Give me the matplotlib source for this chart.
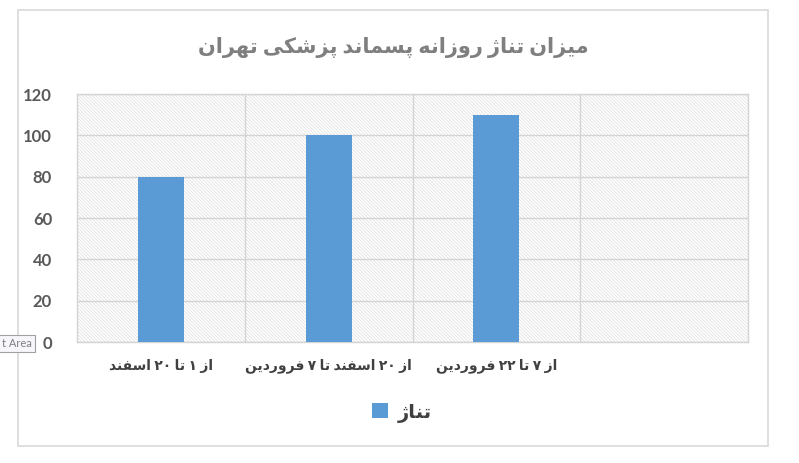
import numpy as np
import matplotlib
matplotlib.use("Agg")
import matplotlib.pyplot as plt
from matplotlib.patches import Rectangle

# data
title_text = 'میزان تناژ روزانه پسماند پزشکی تهران'
series_name = 'تناژ'
categories = ['از ۱ تا ۲۰ اسفند', 'از ۲۰ اسفند تا ۷ فروردین', 'از ۷ تا ۲۲ فروردین', '']
values = [80, 100, 110, np.nan]
yticks = [0, 20, 40, 60, 80, 100, 120]

# minimal Persian shaping: (isolated, final, initial, medial)
FORMS = {
    '\u0627': ('\uFE8D', '\uFE8E', None, None),
    '\u0622': ('\uFE81', '\uFE82', None, None),
    '\u062F': ('\uFEA9', '\uFEAA', None, None),
    '\u0630': ('\uFEAB', '\uFEAC', None, None),
    '\u0631': ('\uFEAD', '\uFEAE', None, None),
    '\u0632': ('\uFEAF', '\uFEB0', None, None),
    '\u0698': ('\uFB8A', '\uFB8B', None, None),
    '\u0648': ('\uFEED', '\uFEEE', None, None),
    '\u0628': ('\uFE8F', '\uFE90', '\uFE91', '\uFE92'),
    '\u067E': ('\uFB56', '\uFB57', '\uFB58', '\uFB59'),
    '\u062A': ('\uFE95', '\uFE96', '\uFE97', '\uFE98'),
    '\u0633': ('\uFEB1', '\uFEB2', '\uFEB3', '\uFEB4'),
    '\u0634': ('\uFEB5', '\uFEB6', '\uFEB7', '\uFEB8'),
    '\u0641': ('\uFED1', '\uFED2', '\uFED3', '\uFED4'),
    '\u0642': ('\uFED5', '\uFED6', '\uFED7', '\uFED8'),
    '\u0644': ('\uFEDD', '\uFEDE', '\uFEDF', '\uFEE0'),
    '\u0645': ('\uFEE1', '\uFEE2', '\uFEE3', '\uFEE4'),
    '\u0646': ('\uFEE5', '\uFEE6', '\uFEE7', '\uFEE8'),
    '\u0647': ('\uFEE9', '\uFEEA', '\uFEEB', '\uFEEC'),
    '\u06A9': ('\uFB8E', '\uFB8F', '\uFB90', '\uFB91'),
    '\u06CC': ('\uFBFC', '\uFBFD', '\uFBFE', '\uFBFF'),
}


def shape_word(w):
    out = []
    for i, c in enumerate(w):
        if c not in FORMS:
            out.append(c)
            continue
        prev = w[i - 1] if i > 0 else None
        nxt = w[i + 1] if i + 1 < len(w) else None
        join_prev = prev in FORMS and FORMS[prev][2] is not None
        join_next = nxt in FORMS and FORMS[c][2] is not None
        iso, fin, ini, med = FORMS[c]
        if join_prev and join_next:
            out.append(med)
        elif join_prev:
            out.append(fin)
        elif join_next:
            out.append(ini)
        else:
            out.append(iso)
    return ''.join(out)


def rtl(text):
    vis = []
    for w in reversed(text.split(' ')):
        if any(c in FORMS for c in w):
            vis.append(shape_word(w)[::-1])
        else:
            vis.append(w)
    return ' '.join(vis)


plt.rcParams['font.family'] = ['Lato', 'DejaVu Sans']
plt.rcParams['hatch.linewidth'] = 0.45
plt.rcParams['hatch.color'] = '#dadada'

fig = plt.figure(figsize=(7.99, 4.63), dpi=100)
ax = fig.add_axes([0.0964, 0.2613, 0.8398, 0.5356])

# chart border
fig.patches.append(Rectangle((0.0225, 0.0367), 0.9387, 0.9417, transform=fig.transFigure,
                             fill=False, edgecolor='#d9d9d9', linewidth=1.2))

# hatched plot area
ax.patch.set_visible(False)
ax.add_patch(Rectangle((0, 0), 1, 1, transform=ax.transAxes, facecolor='white',
                       edgecolor='#dadada', hatch='\\' * 10, linewidth=0, zorder=0))

x = np.arange(len(categories))
ax.bar(x, values, width=0.275, color='#5b9bd5', zorder=3)

ax.set_xlim(-0.5, len(categories) - 0.5)
ax.set_ylim(0, 120)
ax.set_yticks(yticks)
ax.set_xticks(x[:-1] + 0.5, minor=True)
ax.yaxis.grid(True, color='#d4d4d4', linewidth=1.0, zorder=1)
ax.xaxis.grid(True, which='minor', color='#d4d4d4', linewidth=1.0, zorder=1)
ax.set_axisbelow(True)
for s in ax.spines.values():
    s.set_color('#d4d4d4')
    s.set_linewidth(1.0)

ax.set_xticks(x)
ax.set_xticklabels([rtl(c) for c in categories], fontsize=10, fontweight='bold', color='#404040')
ax.tick_params(axis='both', which='both', length=0)
ax.tick_params(axis='x', pad=12)
ax.tick_params(axis='y', pad=18)
for lab in ax.get_yticklabels():
    lab.set_fontsize(12)
    lab.set_fontweight('bold')
    lab.set_color('#595959')

fig.text(0.492, 0.898, rtl(title_text), ha='center', va='center', fontsize=15,
         fontweight='bold', color='#7f7f7f')

# legend
handle = Rectangle((0, 0), 1, 1, facecolor='#5b9bd5')
fig.legend([handle], [rtl(series_name)], loc='center', bbox_to_anchor=(0.503, 0.108),
           frameon=False, handlelength=0.8, handleheight=0.8, handletextpad=0.5,
           prop={'size': 14, 'weight': 'bold'}, labelcolor='#404040')

# tooltip artefact at left edge
fig.text(0.002, 0.258, 't Area', ha='left', va='center', fontsize=8, color='#7f7f7f',
         bbox=dict(boxstyle='square,pad=0.3', facecolor='#f7f7fb', edgecolor='#a0a0a0', linewidth=0.8))

fig.savefig('out.png', dpi=100)
